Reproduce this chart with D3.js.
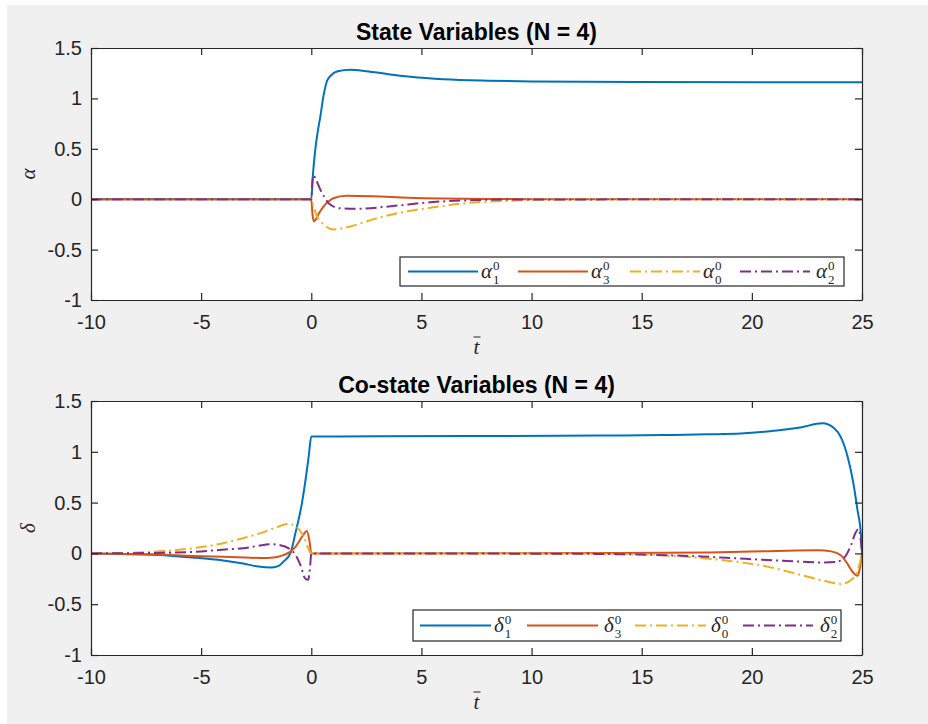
<!DOCTYPE html>
<html>
<head>
<meta charset="utf-8">
<script src="https://cdn.jsdelivr.net/npm/d3@7"></script>
<style>
  html, body { margin: 0; padding: 0; background: #fff; }
  svg { display: block; }
</style>
</head>
<body>
<div id="chart"></div>
<script>
// ---- data ----
var xTicks = [-10, -5, 0, 5, 10, 15, 20, 25];
var xTickLabels = ["-10", "-5", "0", "5", "10", "15", "20", "25"];
var yTicks = [-1, -0.5, 0, 0.5, 1, 1.5];
var yTickLabels = ["-1", "-0.5", "0", "0.5", "1", "1.5"];

// state variables
var alpha1T = [-10, 0, 0.08, 0.18, 0.3, 0.41, 0.55, 0.71, 0.9, 1.2, 1.77, 2.5, 3.5, 4.5, 6, 8, 10, 15, 25];
var alpha1V = [0, 0, 0.26, 0.49, 0.68, 0.82, 1.02, 1.17, 1.23, 1.27, 1.285, 1.27, 1.24, 1.215, 1.19, 1.175, 1.168, 1.163, 1.16];
var alpha3T = [-10, 0, 0.05, 0.12, 0.2, 0.35, 0.56, 0.8, 1.0, 1.6, 2.8, 4.4, 6, 8, 11, 25];
var alpha3V = [0, 0, -0.14, -0.22, -0.2, -0.14, -0.07, -0.02, 0.01, 0.035, 0.03, 0.015, 0.007, 0.003, 0, 0];
var alpha0T = [-10, 0, 0.05, 0.26, 0.56, 1.0, 1.77, 2.8, 3.5, 4.35, 5.4, 7, 9, 12, 25];
var alpha0V = [0, 0, -0.03, -0.17, -0.25, -0.3, -0.27, -0.2, -0.16, -0.12, -0.085, -0.04, -0.015, 0, 0];
var alpha2T = [-10, 0, 0.04, 0.1, 0.2, 0.41, 0.6, 0.79, 1.3, 2.1, 3.6, 5.4, 7, 9, 25];
var alpha2V = [0, 0, 0.15, 0.24, 0.2, 0.095, 0.02, -0.04, -0.09, -0.095, -0.07, -0.03, -0.012, -0.003, 0];

// co-state variables
var delta1T = [-10, -7, -5.4, -4, -3.1, -2.4, -1.86, -1.5, -1.26, -0.95, -0.73, -0.42, -0.27, -0.12, 0, 3, 8, 13, 16, 18, 19.5, 20.7, 22.2, 23.2, 23.75, 24.05, 24.35, 24.6, 24.8, 24.95, 25];
var delta1V = [0, -0.015, -0.04, -0.07, -0.1, -0.13, -0.14, -0.125, -0.08, 0, 0.19, 0.5, 0.71, 0.95, 1.15, 1.152, 1.155, 1.16, 1.165, 1.172, 1.18, 1.2, 1.24, 1.28, 1.23, 1.14, 0.95, 0.7, 0.42, 0.19, 0];
var delta3T = [-10, -7, -5.4, -3, -2.3, -1.7, -1.3, -1.0, -0.7, -0.4, -0.2, -0.08, 0, 14, 18, 20, 22, 23, 23.6, 24.05, 24.3, 24.5, 24.7, 24.8, 24.9, 25];
var delta3V = [0, -0.01, -0.025, -0.04, -0.045, -0.04, -0.02, 0.01, 0.07, 0.17, 0.22, 0.12, 0, 0.003, 0.01, 0.018, 0.028, 0.03, 0.02, -0.02, -0.09, -0.16, -0.21, -0.22, -0.15, 0];
var delta0T = [-10, -8.4, -6.9, -5.4, -4, -3.1, -2.3, -1.6, -1.1, -0.8, -0.5, -0.3, -0.14, 0, 12, 15, 16.5, 17.7, 19, 20.7, 22.2, 23.3, 24.05, 24.45, 24.8, 25];
var delta0V = [0, 0.005, 0.02, 0.05, 0.1, 0.15, 0.2, 0.255, 0.29, 0.28, 0.22, 0.14, 0.05, 0, -0.003, -0.01, -0.025, -0.045, -0.075, -0.13, -0.21, -0.27, -0.3, -0.27, -0.17, 0];
var delta2T = [-10, -7, -5.4, -3.8, -3.1, -2.4, -1.86, -1.5, -0.95, -0.7, -0.5, -0.27, -0.14, -0.05, 0, 12, 15, 17.7, 19, 20.7, 22.2, 23.3, 23.8, 24.2, 24.5, 24.7, 24.85, 24.95, 25];
var delta2V = [0, 0.005, 0.015, 0.04, 0.05, 0.075, 0.09, 0.085, 0.04, -0.02, -0.11, -0.25, -0.26, -0.12, 0, -0.004, -0.012, -0.03, -0.045, -0.065, -0.08, -0.09, -0.085, -0.04, 0.08, 0.2, 0.24, 0.12, 0];

var seriesSub = ["1", "3", "0", "2"];
var seriesColor = ["#0072BD", "#D95319", "#EDB120", "#7E2F8E"];
var seriesDash = [null, null, "11,4,2,4", "11,4,2,4"];

// ---- layout ----
var width = 928, height = 724;
var axColor = "#262626";
var tickFont = "'Liberation Sans', Arial, sans-serif";
var mathFont = "'Liberation Serif', 'DejaVu Serif', serif";

var svg = d3.select("#chart").append("svg")
  .attr("width", width)
  .attr("height", height);

// figure background (white strip at top / left like the screenshot)
svg.append("rect").attr("x", 7).attr("y", 5)
  .attr("width", width - 7).attr("height", height - 5)
  .attr("fill", "#f0f0f0");

function zip(ts, vs) {
  return ts.map(function(t, i) { return [t, vs[i]]; });
}

function drawPanel(cfg) {
  var x = d3.scaleLinear().domain([-10, 25]).range([91, 862]);
  var y = d3.scaleLinear().domain([-1, 1.5]).range([cfg.bottom, cfg.top]);
  var g = svg.append("g");

  g.append("rect")
    .attr("x", x.range()[0]).attr("y", cfg.top)
    .attr("width", x.range()[1] - x.range()[0])
    .attr("height", cfg.bottom - cfg.top)
    .attr("fill", "#fff");

  var clipId = "clip" + cfg.id;
  svg.append("clipPath").attr("id", clipId).append("rect")
    .attr("x", x.range()[0]).attr("y", cfg.top)
    .attr("width", x.range()[1] - x.range()[0])
    .attr("height", cfg.bottom - cfg.top);

  var line = d3.line()
    .x(function(d) { return x(d[0]); })
    .y(function(d) { return y(d[1]); })
    .curve(d3.curveMonotoneX);

  var lines = g.append("g").attr("clip-path", "url(#" + clipId + ")");
  cfg.series.forEach(function(s, i) {
    lines.append("path")
      .datum(zip(s[0], s[1]))
      .attr("fill", "none")
      .attr("stroke", seriesColor[i])
      .attr("stroke-width", 2)
      .attr("stroke-dasharray", seriesDash[i])
      .attr("d", line);
  });

  // axes, ticks pointing inward, boxed
  var tickLen = 7;
  var axB = g.append("g").attr("transform", "translate(0," + cfg.bottom + ")")
    .call(d3.axisBottom(x).tickValues(xTicks).tickSizeInner(-tickLen).tickSizeOuter(0).tickPadding(15)
      .tickFormat(function(d, i) { return xTickLabels[i]; }));
  var axT = g.append("g").attr("transform", "translate(0," + cfg.top + ")")
    .call(d3.axisTop(x).tickValues(xTicks).tickSizeInner(-tickLen).tickSizeOuter(0).tickFormat(""));
  var axL = g.append("g").attr("transform", "translate(" + x.range()[0] + ",0)")
    .call(d3.axisLeft(y).tickValues(yTicks).tickSizeInner(-tickLen).tickSizeOuter(0).tickPadding(9)
      .tickFormat(function(d, i) { return yTickLabels[i]; }));
  var axR = g.append("g").attr("transform", "translate(" + x.range()[1] + ",0)")
    .call(d3.axisRight(y).tickValues(yTicks).tickSizeInner(-tickLen).tickSizeOuter(0).tickFormat(""));

  [axB, axT, axL, axR].forEach(function(a) {
    a.select(".domain").attr("stroke", axColor).attr("stroke-width", 1.2);
    a.selectAll(".tick line").attr("stroke", axColor).attr("stroke-width", 1.2);
    a.selectAll("text")
      .attr("fill", axColor)
      .style("font-family", tickFont)
      .style("font-size", "20px");
  });

  // title
  g.append("text")
    .attr("x", (x.range()[0] + x.range()[1]) / 2)
    .attr("y", cfg.top - 8)
    .attr("text-anchor", "middle")
    .style("font-family", tickFont)
    .style("font-size", "23px")
    .style("font-weight", "bold")
    .attr("fill", "#000")
    .text(cfg.title);

  // x label: t with a bar
  var xl = (x.range()[0] + x.range()[1]) / 2;
  g.append("text")
    .attr("x", xl).attr("y", cfg.bottom + 54)
    .attr("text-anchor", "middle")
    .style("font-family", mathFont)
    .style("font-style", "italic")
    .style("font-size", "21px")
    .attr("fill", axColor)
    .text("t");
  g.append("line")
    .attr("x1", xl - 3).attr("x2", xl + 4)
    .attr("y1", cfg.bottom + 37).attr("y2", cfg.bottom + 37)
    .attr("stroke", axColor).attr("stroke-width", 1);

  // y label
  var yc = (cfg.top + cfg.bottom) / 2;
  g.append("text")
    .attr("transform", "translate(35," + yc + ") rotate(-90)")
    .attr("text-anchor", "middle")
    .style("font-family", mathFont)
    .style("font-style", "italic")
    .style("font-size", "21px")
    .attr("fill", axColor)
    .text(cfg.ylab);

  // legend
  var L = cfg.legend;
  var lg = g.append("g");
  lg.append("rect")
    .attr("x", L.x).attr("y", L.y)
    .attr("width", L.w).attr("height", L.h)
    .attr("fill", "#fff")
    .attr("stroke", axColor).attr("stroke-width", 1.2);
  var ly = L.y + L.h / 2;
  L.items.forEach(function(it, i) {
    lg.append("line")
      .attr("x1", it[0]).attr("x2", it[1])
      .attr("y1", ly).attr("y2", ly)
      .attr("stroke", seriesColor[i])
      .attr("stroke-width", 2)
      .attr("stroke-dasharray", seriesDash[i]);
    var sym = lg.append("text")
      .attr("x", it[2]).attr("y", ly + 6)
      .style("font-family", mathFont)
      .style("font-style", "italic")
      .style("font-size", "21px")
      .attr("fill", axColor)
      .text(cfg.ylab);
    var sx = it[2] + sym.node().getComputedTextLength() + 1;
    lg.append("text")
      .attr("x", sx).attr("y", ly - 2)
      .style("font-family", mathFont)
      .style("font-size", "13px")
      .attr("fill", axColor)
      .text("0");
    lg.append("text")
      .attr("x", sx).attr("y", ly + 12)
      .style("font-family", mathFont)
      .style("font-size", "13px")
      .attr("fill", axColor)
      .text(seriesSub[i]);
  });
}

drawPanel({
  id: "a", top: 48, bottom: 300,
  title: "State Variables (N = 4)",
  ylab: "\u03b1",
  series: [[alpha1T, alpha1V], [alpha3T, alpha3V], [alpha0T, alpha0V], [alpha2T, alpha2V]],
  legend: { x: 400, y: 257, w: 444, h: 29,
    items: [[408, 478, 481], [518, 588, 591], [630, 700, 703], [740, 810, 816]] }
});

drawPanel({
  id: "d", top: 401, bottom: 655,
  title: "Co-state Variables (N = 4)",
  ylab: "\u03b4",
  series: [[delta1T, delta1V], [delta3T, delta3V], [delta0T, delta0V], [delta2T, delta2V]],
  legend: { x: 413, y: 610, w: 428, h: 31,
    items: [[420, 491, 494], [527, 598, 604], [635, 706, 711], [743, 813, 820]] }
});
</script>
</body>
</html>
